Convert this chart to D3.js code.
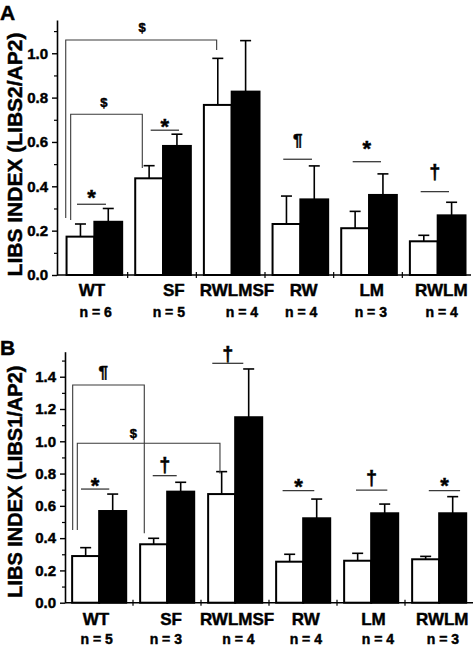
<!DOCTYPE html>
<html>
<head>
<meta charset="utf-8">
<script src="https://cdn.jsdelivr.net/npm/d3@7"></script>
<style>
  html, body { margin: 0; padding: 0; background: #fff; }
  svg { display: block; }
  text { font-family: "Liberation Sans", Arial, sans-serif; font-weight: bold; fill: #000; }
</style>
</head>
<body>
<svg id="chart" width="475" height="647"></svg>
<script>
// ---------- data ----------
const categories = ["WT", "SF", "RWLMSF", "RW", "LM", "RWLM"];

// Panel A : LIBS2/AP2
const nLabelsA = ["n = 6", "n = 5", "n = 4", "n = 4", "n = 3", "n = 4"];
const whiteA    = [0.173, 0.436, 0.767, 0.230, 0.211, 0.152];
const whiteErrA = [0.057, 0.057, 0.210, 0.126, 0.076, 0.027];
const blackA    = [0.240, 0.582, 0.827, 0.341, 0.361, 0.269];
const blackErrA = [0.060, 0.053, 0.230, 0.151, 0.095, 0.059];
const yTicksA   = [0.0, 0.2, 0.4, 0.6, 0.8, 1.0];
const yMinorA   = [0.1, 0.3, 0.5, 0.7, 0.9, 1.1];
// significance marks: [from, to, line level, symbol, symbol level]  (x in group units)
const sigA = [
  [0.262, 0.684, 0.319, "*", 0.372],
  [1.335, 1.748, 0.653, "*", 0.690],
  [3.266, 3.684, 0.522, "¶", 0.600],
  [4.277, 4.689, 0.511, "*", 0.591],
  [5.267, 5.680, 0.376, "†", 0.459]
];
// brackets: [left, right, top, leftEnd, rightEnd, symbol, symbolX, symbolLevel]
const bracketsA = [
  [0.170, 1.213, 0.725, 0.248, 0.483, "$", 0.655, 0.776],
  [0.098, 2.296, 1.060, 0.257, 1.015, "$", 1.209, 1.114]
];

// Panel B : LIBS1/AP2
const nLabelsB = ["n = 5", "n = 3", "n = 4", "n = 4", "n = 4", "n = 3"];
const whiteB    = [0.289, 0.362, 0.673, 0.254, 0.260, 0.269];
const whiteErrB = [0.052, 0.037, 0.139, 0.046, 0.046, 0.018];
const blackB    = [0.568, 0.688, 1.149, 0.523, 0.554, 0.554];
const blackErrB = [0.105, 0.058, 0.299, 0.119, 0.057, 0.103];
const yTicksB   = [0.0, 0.2, 0.4, 0.6, 0.8, 1.0, 1.2, 1.4];
const yMinorB   = [0.1, 0.3, 0.5, 0.7, 0.9, 1.1, 1.3, 1.5];
const sigB = [
  [0.235, 0.651, 0.704, "*", 0.754],
  [1.290, 1.643, 0.787, "†", 0.843],
  [2.166, 2.622, 1.483, "†", 1.535],
  [3.200, 3.666, 0.694, "*", 0.750],
  [4.279, 4.740, 0.698, "†", 0.766],
  [5.350, 5.810, 0.694, "*", 0.754]
];
const bracketsB = [
  [0.113, 1.166, 1.349, 0.450, 0.430, "¶", 0.563, 1.421],
  [0.181, 2.279, 0.988, 0.450, 0.800, "$", 1.004, 1.050]
];

// ---------- layout (not data) ----------
const catLabelPosA = [0.481, 1.672, 2.592, 3.563, 4.554, 5.567];
const nLabelPosA   = [0.534, 1.599, 2.665, 3.527, 4.541, 5.573];
const catLabelPosB = [0.456, 1.559, 2.530, 3.541, 4.537, 5.547];
const nLabelPosB   = [0.466, 1.482, 2.550, 3.541, 4.603, 5.559];

const symbolStyle = {
  "*": { size: 22, k: 0.55 },
  "†": { size: 20, k: 0.29 },
  "¶": { size: 17, k: 0.26 },
  "$": { size: 13, k: 0.33 }
};
const textStroke = 0.45;

const svg = d3.select("#chart");

function heavy(sel) {
  return sel.attr("stroke", "#000").attr("stroke-width", textStroke).attr("paint-order", "stroke");
}

function drawPanel(p) {
  const g = svg.append("g");
  const x = d3.scaleBand().domain(categories).range(p.xRange).paddingInner(0).paddingOuter(0);
  const u = d3.scaleLinear().domain([0, categories.length]).range(p.xRange);
  const bw = x.bandwidth();
  const sub = d3.scaleBand().domain(["white", "black"]).range([p.inner[0] * bw, p.inner[1] * bw]);
  const y = d3.scaleLinear().domain([0, p.yMax]).range(p.yRange);

  const rows = categories.map((c, i) => ({
    cat: c,
    bars: [
      { key: "white", v: p.white[i], e: p.whiteErr[i] },
      { key: "black", v: p.black[i], e: p.blackErr[i] }
    ]
  }));

  const grp = g.selectAll("g.grp").data(rows).join("g")
    .attr("class", "grp")
    .attr("transform", d => `translate(${x(d.cat)},0)`);

  // error bars (upper only)
  grp.selectAll("line.err").data(d => d.bars).join("line")
    .attr("class", "err")
    .attr("x1", d => sub(d.key) + sub.bandwidth() / 2)
    .attr("x2", d => sub(d.key) + sub.bandwidth() / 2)
    .attr("y1", d => y(d.v))
    .attr("y2", d => y(d.v + d.e))
    .attr("stroke", "#000").attr("stroke-width", 1.6);
  grp.selectAll("line.cap").data(d => d.bars).join("line")
    .attr("class", "cap")
    .attr("x1", d => sub(d.key) + sub.bandwidth() / 2 - 5.5)
    .attr("x2", d => sub(d.key) + sub.bandwidth() / 2 + 5.5)
    .attr("y1", d => y(d.v + d.e))
    .attr("y2", d => y(d.v + d.e))
    .attr("stroke", "#000").attr("stroke-width", 1.6);

  grp.selectAll("rect").data(d => d.bars).join("rect")
    .attr("x", d => sub(d.key))
    .attr("width", sub.bandwidth())
    .attr("y", d => y(d.v))
    .attr("height", d => y(0) - y(d.v))
    .attr("fill", d => d.key === "white" ? "#fff" : "#000")
    .attr("stroke", "#000")
    .attr("stroke-width", 2);

  // y axis
  const yAxis = g.append("g")
    .attr("transform", `translate(${p.axisX},0)`)
    .call(d3.axisLeft(y).tickValues(p.ticks).tickFormat(d3.format(".1f"))
      .tickSize(5).tickSizeOuter(0).tickPadding(4));
  yAxis.select(".domain").attr("stroke-width", 1.6);
  yAxis.selectAll(".tick line").attr("stroke-width", 1.4);
  heavy(yAxis.selectAll(".tick text")
    .attr("font-family", "Liberation Sans").attr("font-weight", "bold")
    .attr("font-size", 15).attr("fill", "#000"));

  const yMinor = g.append("g")
    .attr("transform", `translate(${p.axisX},0)`)
    .call(d3.axisLeft(y).tickValues(p.minor).tickFormat("").tickSize(3).tickSizeOuter(0));
  yMinor.select(".domain").remove();
  yMinor.selectAll(".tick line").attr("stroke-width", 1.2);

  // x axis baseline with separator ticks
  g.append("line")
    .attr("x1", p.axisX).attr("x2", p.xRange[1])
    .attr("y1", y(0)).attr("y2", y(0))
    .attr("stroke", "#000").attr("stroke-width", 1.6);
  g.selectAll("line.sep").data(d3.range(1, categories.length)).join("line")
    .attr("class", "sep")
    .attr("x1", d => u(d)).attr("x2", d => u(d))
    .attr("y1", y(0) - 3).attr("y2", y(0) + 3)
    .attr("stroke", "#000").attr("stroke-width", 1.2);

  // category labels
  heavy(g.selectAll("text.cat").data(categories).join("text")
    .attr("class", "cat")
    .attr("x", (d, i) => u(p.catPos[i]))
    .attr("y", p.catY)
    .attr("text-anchor", "middle")
    .attr("font-size", 17)
    .text(d => d));
  heavy(g.selectAll("text.nlab").data(p.nLabels).join("text")
    .attr("class", "nlab")
    .attr("x", (d, i) => u(p.nPos[i]))
    .attr("y", p.nY)
    .attr("text-anchor", "middle")
    .attr("font-size", 14)
    .text(d => d));

  const lineCol = "#3a3a3a";
  function symbol(sym, cx, level) {
    const st = symbolStyle[sym];
    heavy(g.append("text")
      .attr("x", cx)
      .attr("y", y(level) + st.k * st.size)
      .attr("text-anchor", "middle")
      .attr("font-size", st.size)
      .text(sym));
  }

  // significance lines
  p.sig.forEach(s => {
    g.append("line")
      .attr("x1", u(s[0])).attr("x2", u(s[1]))
      .attr("y1", y(s[2])).attr("y2", y(s[2]))
      .attr("stroke", lineCol).attr("stroke-width", 1.3);
    symbol(s[3], (u(s[0]) + u(s[1])) / 2, s[4]);
  });

  // brackets
  p.brackets.forEach(b => {
    const path = d3.path();
    path.moveTo(u(b[0]), y(b[3]));
    path.lineTo(u(b[0]), y(b[2]));
    path.lineTo(u(b[1]), y(b[2]));
    path.lineTo(u(b[1]), y(b[4]));
    g.append("path").attr("d", path.toString())
      .attr("fill", "none").attr("stroke", lineCol).attr("stroke-width", 1.1);
    symbol(b[5], u(b[6]), b[7]);
  });

  // y title
  heavy(g.append("text")
    .attr("transform", `translate(${p.titleX},${p.titleY}) rotate(-90)`)
    .attr("text-anchor", "middle")
    .attr("font-size", p.titleSize)
    .text(p.title));

  // panel letter
  heavy(g.append("text")
    .attr("x", 0).attr("y", p.letterY)
    .attr("font-size", 21)
    .text(p.letter));
}

drawPanel({
  letter: "A", letterY: 20,
  title: "LIBS INDEX (LIBS2/AP2)", titleX: 21.5, titleY: 154.5, titleSize: 21,
  xRange: [59, 471], axisX: 57, inner: [0.11, 0.92],
  yMax: 1.15, yRange: [275, 20],
  ticks: yTicksA, minor: yMinorA,
  white: whiteA, whiteErr: whiteErrA, black: blackA, blackErr: blackErrA,
  nLabels: nLabelsA, catPos: catLabelPosA, nPos: nLabelPosA,
  catY: 295.5, nY: 317,
  sig: sigA, brackets: bracketsA
});

drawPanel({
  letter: "B", letterY: 355,
  title: "LIBS INDEX (LIBS1/AP2)", titleX: 21.5, titleY: 481.7, titleSize: 20,
  xRange: [65, 473], axisX: 65, inner: [0.105, 0.90],
  yMax: 1.555, yRange: [602.7, 351.7],
  ticks: yTicksB, minor: yMinorB,
  white: whiteB, whiteErr: whiteErrB, black: blackB, blackErr: blackErrB,
  nLabels: nLabelsB, catPos: catLabelPosB, nPos: nLabelPosB,
  catY: 625, nY: 643.5,
  sig: sigB, brackets: bracketsB
});
</script>
</body>
</html>
